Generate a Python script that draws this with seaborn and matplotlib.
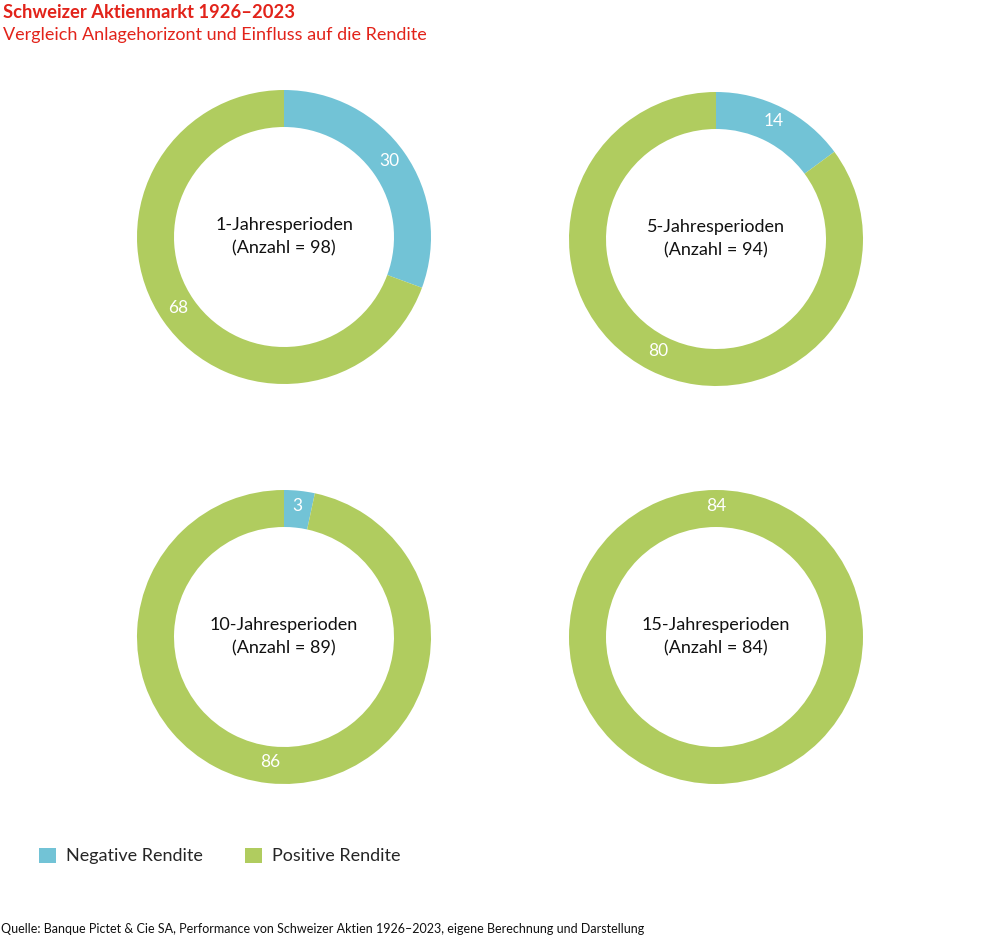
import numpy as np
import matplotlib
matplotlib.use("Agg")
import matplotlib.pyplot as plt
import seaborn as sns
from matplotlib.patches import Patch

# data
periods = ["1-Jahresperioden", "5-Jahresperioden", "10-Jahresperioden", "15-Jahresperioden"]
negative = [30, 14, 3, 0]
positive = [68, 80, 86, 84]
series_names = ["Negative Rendite", "Positive Rendite"]

sns.set_theme(style="white")
plt.rcParams["font.family"] = ["Lato", "DejaVu Sans"]

colors = ["#72C3D6", "#B0CC5F"]
red = "#E2231A"

W, H = 999, 940
fig = plt.figure(figsize=(W / 100, H / 100), dpi=100)

# donut centres in pixels
centres = [(284, 237), (716, 239), (284, 637), (716, 637)]
R = 147
inner = 110
width = (R - inner) / R
mid_r = (R + inner) / 2 / R

for i, (cx, cy) in enumerate(centres):
    ax = fig.add_axes([(cx - R) / W, (H - cy - R) / H, 2 * R / W, 2 * R / H])
    vals = [negative[i], positive[i]]
    ax.pie(vals, colors=colors, startangle=90, counterclock=False,
           wedgeprops=dict(width=width, edgecolor="none"), radius=1)
    ax.set_xlim(-1, 1)
    ax.set_ylim(-1, 1)
    ax.set_aspect("equal")
    ax.axis("off")

    total = sum(vals)
    start = 0
    for v in vals:
        if v == 0:
            continue
        if v == total:
            ang = 0.0
        else:
            ang = (start + v / 2) / total * 360
        a = np.deg2rad(ang)
        ax.text(mid_r * np.sin(a), mid_r * np.cos(a) + 0.02, str(v), color="white",
                fontsize=12.5, ha="center", va="center")
        start += v

    ax.text(0, 0.08, periods[i], ha="center", va="center", fontsize=13, color="#111111")
    ax.text(0, -0.08, f"(Anzahl = {total})", ha="center", va="center", fontsize=13, color="#111111")

fig.text(3 / W, 1 - 12 / H, "Schweizer Aktienmarkt 1926–2023", color=red,
         fontsize=13.2, fontweight="bold", ha="left", va="center")
fig.text(3 / W, 1 - 35 / H, "Vergleich Anlagehorizont und Einfluss auf die Rendite", color=red,
         fontsize=13, ha="left", va="center")

handles = [Patch(facecolor=c, edgecolor="none", label=n) for c, n in zip(colors, series_names)]
fig.legend(handles=handles, loc="center left", bbox_to_anchor=(23 / W, 1 - 856 / H),
           ncol=2, frameon=False, fontsize=13, handlelength=0.95, handleheight=0.95,
           handletextpad=0.55, columnspacing=2.3)

fig.text(1 / W, 1 - 929 / H,
         "Quelle: Banque Pictet & Cie SA, Performance von Schweizer Aktien 1926–2023, eigene Berechnung und Darstellung",
         fontsize=9, ha="left", va="center", color="#111111")

fig.savefig("out.png", dpi=100)
